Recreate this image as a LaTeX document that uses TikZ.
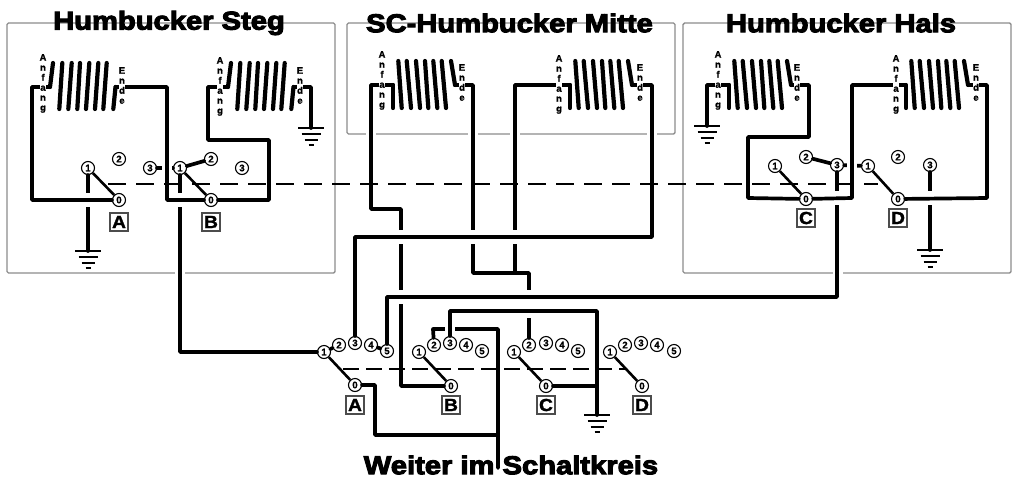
\documentclass[tikz,border=0pt]{standalone}
\usepackage{fontspec}
\setmainfont{Liberation Sans}
\newfontfamily\heavy[FakeBold=4,FakeStretch=1.13]{Liberation Sans Bold}
\newfontfamily\lab[FakeBold=1]{Liberation Sans Bold}
\newfontfamily\tagf[FakeBold=1.5,FakeStretch=1.1]{Liberation Sans Bold}
\tikzset{
  wire/.style={line width=3.7pt,line join=round,line cap=round},
  arm/.style={line width=2.6pt},
  coilw/.style={line width=4.2pt,line cap=round,line join=round},
  pane/.style={draw=black!45,line width=1.4pt,rounded corners=1.5pt},
  term/.style={circle,draw,fill=white,line width=1.1pt,minimum size=13pt,inner sep=0pt,font=\lab\fontsize{9.5}{10}\selectfont},
  tag/.style={draw=black!70,fill=white,line width=1.4pt,minimum size=18pt,inner sep=0pt,font=\tagf\fontsize{17.5}{17}\selectfont},
  title/.style={font=\heavy\fontsize{25.8}{26}\selectfont,inner sep=0pt},
  stack/.style={align=center,fill=white,inner sep=0pt,font=\lab\fontsize{9.5}{10}\selectfont},
}
\newcommand\coilS[2]{%
  \coordinate (#2a) at (50+#1,87);\coordinate (#2e) at (115.5+#1,87);
  \draw[coilw] (#2a) -- (53+#1,63);
  \foreach \t/\b in {62.3/59.3,71.7/68.3,80/77.3,89.3/86,98.3/95,106.7/103.3}{\draw[coilw] (\t+#1,63) -- (\b+#1,109);}
  \draw[coilw] (113.3+#1,109) -- (#2e);}
\newcommand\coilM[2]{%
  \coordinate (#2a) at (393+#1,85);\coordinate (#2e) at (455+#1,85);
  \draw[coilw] (#2a) -- (393+#1,108);
  \foreach \t/\b in {398.3/401.7,406.7/411,416/420,425/428.3,433.3/437.3,441.7/446}{\draw[coilw] (\t+#1,61) -- (\b+#1,108);}
  \draw[coilw] (451+#1,61) -- (#2e);}
\newcommand\gnd[1]{%
  \draw[line width=2.2pt] ([xshift=-13pt]#1) -- ([xshift=13pt]#1)
    ([xshift=-9.5pt,yshift=-6pt]#1) -- ([xshift=9.5pt,yshift=-6pt]#1)
    ([xshift=-6.5pt,yshift=-12pt]#1) -- ([xshift=6.5pt,yshift=-12pt]#1)
    ([xshift=-2.5pt,yshift=-17pt]#1) -- ([xshift=2.5pt,yshift=-17pt]#1);}
\newcommand\cutv[2]{\fill[white] (#1-3,#2-7) rectangle (#1+3,#2+7);}
\newcommand\cuth[2]{\fill[white] (#1-5,#2-3) rectangle (#1+5,#2+3);}
\newcommand\boxgap[2]{\fill[white] (#1-5,#2-2) rectangle (#1+5,#2+2);}
\newcommand\labA[3]{\node[stack,anchor=north] (#3) at (#1,#2) {A\\n\\f\\a\\n\\g};}
\newcommand\labE[3]{\node[stack,anchor=north] (#3) at (#1,#2) {E\\n\\d\\e};}
\begin{document}
\begin{tikzpicture}[x=1pt,y=-1pt]
\useasboundingbox (0,0) rectangle (1024,493);
% panes
\draw[pane] (7,23) rectangle (335,273);
\draw[pane] (347,23) rectangle (675,134);
\draw[pane] (683,23) rectangle (1011,273);
\foreach \x/\y in {180/273,371/134,473/134,515/134,652/134,838/273}{\boxgap{\x}{\y}}
% titles
\node[title] (t1) at (169,23) {Humbucker Steg};
\node[title] (t2) at (509.5,23) {SC-Humbucker Mitte};
\node[title] (t3) at (841,23) {Humbucker Hals};
\node[title] (t4) at (511,465) {Weiter im Schaltkreis};
% dashed linkage rods
\coordinate (da) at (108,184);\coordinate (db) at (878,184);
\draw[line width=1.6pt,dash pattern=on 18pt off 10pt] (da) -- (db);
\coordinate (dc) at (343,369);\coordinate (dd) at (625,369);
\draw[line width=1.2pt,dash pattern=on 16pt off 7pt] (dc) -- (dd);
% coils
\coilS{0}{sl}\coilS{178}{sr}
\coilM{0}{ml}\coilM{177}{mr}
\coilM{336}{hl}\coilM{513}{hr}
% terminals
\foreach \n/\t/\x/\y in {a1/1/88/168,a2/2/119/159,a0/0/119/200,a3/3/150/168,
  b1/1/180/168,b2/2/211/159,b0/0/211/200,b3/3/242/168,
  c1/1/775/166,c2/2/806/157,c0/0/806/199,c3/3/837/165,
  d1/1/868/166,d2/2/898/157,d0/0/898/199,d3/3/930/165,
  pa1/1/324/352,pa2/2/339/345,pa3/3/355/343,pa4/4/371/345,pa5/5/387/351,pa0/0/355/385,
  pb1/1/419/352,pb2/2/434/345,pb3/3/450/343,pb4/4/466/345,pb5/5/482/351,pb0/0/451/386,
  pc1/1/514/352,pc2/2/529/345,pc3/3/546/343,pc4/4/562/345,pc5/5/578/351,pc0/0/546/386,
  pd1/1/610/352,pd2/2/625/345,pd3/3/641/343,pd4/4/657/345,pd5/5/674/351,pd0/0/642/386}
  {\node[term] (\n) at (\x,\y) {\t};}
\foreach \n/\t/\x/\y in {la/A/119/222,lb/B/211/222,lc/C/806/218,ld/D/898/218,
  ma/A/355/405,mb/B/451/405,mc/C/546/405,md/D/642/405}
  {\node[tag] (\n) at (\x,\y) {\t};}
% grounds
\coordinate (g1) at (88,251);\coordinate (g2) at (311,128);
\coordinate (g3) at (707,126);\coordinate (g4) at (930,250);\coordinate (g5) at (597,415);
\gnd{g1}\gnd{g2}\gnd{g3}\gnd{g4}\gnd{g5}
% wires passing under others
\draw[wire] (a1) -- (g1);
\draw[wire] (b1) -- (180,352) -- (pa1);
\draw[wire] (d3) -- (g4);
\coordinate (j1) at (529,273);
\draw[wire] (mla) -- (371,85) -- (371,209) -- (401,209) -- (401,386) -- (pb0);
\draw[wire] (mle) -- (473,85) -- (473,273) -- (j1) -- (pc2);
\draw[wire] (mra) -- (515,85) -- (515,273);
\draw[wire] (a3) -- (b1);
\draw[wire] (c3) -- (d1);
\draw[wire] (pb2) -- (433,329) -- (498,329) -- (498,468);
% gaps
\cutv{88}{200}\cutv{180}{200}\cutv{930}{198}
\cutv{401}{237}\cutv{401}{297}\cutv{473}{237}\cutv{515}{237}
\cutv{529}{297}\cutv{529}{311}
\cuth{167}{168}\cuth{852}{166}\cuth{450}{329}
\draw[wire] (c3) -- (837,297) -- (387,297) -- (pa5);
\cutv{837}{198}
% wires passing over others
\draw[wire] (sla) -- (32,87) -- (32,200) -- (a0);
\draw[wire] (sle) -- (167,87) -- (167,200) -- (b0);
\draw[wire] (b0) -- (269,200) -- (269,140) -- (208,140) -- (208,87) -- (sra);
\draw[wire] (sre) -- (311,87) -- (g2);
\draw[wire] (hla) -- (707,85) -- (g3);
\draw[wire] (hle) -- (809,85) -- (809,137) -- (748,137) -- (748,198) -- (c0);
\draw[wire] (c0) -- (852,198) -- (852,85) -- (hra);
\draw[wire] (hre) -- (987,85) -- (987,198) -- (d0);
\draw[wire] (mre) -- (652,85) -- (652,237) -- (355,237) -- (pa3);
\draw[wire] (pb3) -- (450,311) -- (597,311) -- (g5);
\draw[wire] (pc0) -- (597,386);
\draw[wire] (pa0) -- (375,385) -- (375,435) -- (498,435);
% switch arms
\foreach \p/\q in {a1/a0,b1/b0,c1/c0,d1/d0,pa1/pa0,pb1/pb0,pc1/pc0,pd1/pd0}{\draw[arm] (\p) -- (\q);}
\draw[wire] (b1) -- (b2);
\draw[wire] (c2) -- (c3);
\draw[wire] (pa1) -- (pa2);
\draw[wire] (pa4) -- (pa5);
% coil labels
\labA{43}{54}{an1}\labE{122}{67}{en1}
\labA{220}{57}{an2}\labE{300}{67}{en2}
\labA{382}{51}{an3}\labE{462}{64}{en3}
\labA{559}{55}{an4}\labE{640}{64}{en4}
\labA{718}{51}{an5}\labE{797}{64}{en5}
\labA{896}{55}{an6}\labE{976}{64}{en6}
\end{tikzpicture}
\end{document}
